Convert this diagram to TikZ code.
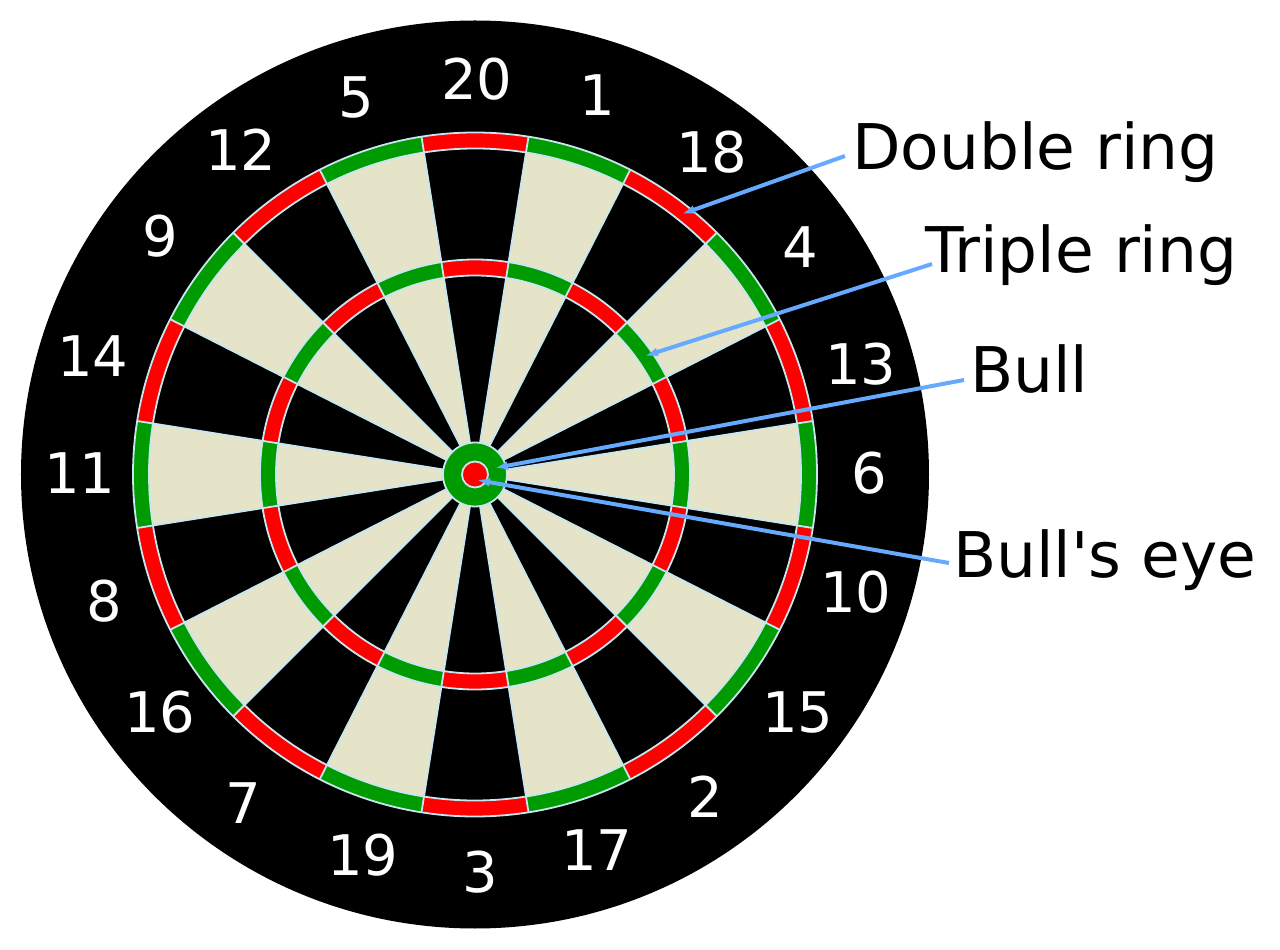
\documentclass[tikz,border=0pt]{standalone}
\usepackage{fontspec}
\setmainfont{DejaVu Sans}[Ligatures=TeXOff]
\usetikzlibrary{arrows.meta}
\definecolor{dartred}{RGB}{255,0,0}
\definecolor{dartgreen}{RGB}{0,155,0}
\definecolor{dartcream}{RGB}{230,228,200}
\definecolor{dartwire}{RGB}{200,230,240}
\definecolor{pointerblue}{RGB}{102,170,255}
\begin{document}
\begin{tikzpicture}[x=1pt,y=1pt,
  wireline/.style={draw=dartwire, line width=1.8pt},
  numlabel/.style={text=white, inner sep=0pt, font=\fontsize{56}{66}\selectfont},
  partlabel/.style={text=black, inner sep=0pt, anchor=base west, font=\fontsize{63}{75}\selectfont},
  pointer/.style={draw=pointerblue, line width=4pt, -{Latex[length=13pt,width=9pt]}}]
\useasboundingbox (-475,-475.5) rectangle (805,474.5);
% board
\fill[black] (0,0) circle[radius=454];
\foreach \k in {0,...,19}{
  \pgfmathsetmacro\aa{81-18*\k}
  \pgfmathsetmacro\ab{99-18*\k}
  \ifodd\k \def\rc{dartgreen}\def\sc{dartcream}\else\def\rc{dartred}\def\sc{black}\fi
  \fill[\rc] (0,0) -- (\aa:342) arc[start angle=\aa,end angle=\ab,radius=342] -- cycle;
  \fill[\sc] (0,0) -- (\aa:326) arc[start angle=\aa,end angle=\ab,radius=326] -- cycle;
  \fill[\rc] (0,0) -- (\aa:215) arc[start angle=\aa,end angle=\ab,radius=215] -- cycle;
  \fill[\sc] (0,0) -- (\aa:199) arc[start angle=\aa,end angle=\ab,radius=199] -- cycle;
}
\foreach \k in {0,...,19}{
  \pgfmathsetmacro\aa{81-18*\k}
  \draw[wireline] (\aa:32) -- (\aa:342);
}
\foreach \r in {342,326,215,199}{
  \draw[wireline] (0,0) circle[radius=\r];
}
\fill[dartgreen] (0,0) circle[radius=32];
\draw[wireline] (0,0) circle[radius=32];
\fill[dartred] (0,0) circle[radius=13];
\draw[wireline] (0,0) circle[radius=13];
% numbers
\foreach \n/\x/\y in {20/477/79, 1/597/95, 18/712/152, 4/800/247, 13/861/364,
  6/869/473, 10/856/592, 15/798/712, 2/705/797, 17/597/850, 3/480.5/872,
  19/363/855, 7/243/803, 16/160/712, 8/104/601, 11/80/473, 14/93/356,
  9/160/236, 12/241/150, 5/356/97}{
  \node[numlabel] (n\n) at (\x-475,474.5-\y) {\n};
}
% labels
\node[partlabel] (dbl) at (852-475,474.5-170) {Double ring};
\node[partlabel] (trp) at (925-475,474.5-273) {Triple ring};
\node[partlabel] (bul) at (970-475,474.5-393) {Bull};
\node[partlabel] (bey) at (953-475,474.5-578) {Bull's eye};
% pointer ends
\coordinate (dblTail) at (370,318.5);
\coordinate (dblTip) at (207,260.5);
\coordinate (trpTail) at (457,210.5);
\coordinate (trpTip) at (170,118.5);
\coordinate (bulTail) at (489,94.5);
\coordinate (bulTip) at (20,6.5);
\coordinate (beyTail) at (474,-88.5);
\coordinate (beyTip) at (2,-5.5);
\draw[pointer] (dblTail) -- (dblTip);
\draw[pointer] (trpTail) -- (trpTip);
\draw[pointer] (bulTail) -- (bulTip);
\draw[pointer] (beyTail) -- (beyTip);
\end{tikzpicture}
\end{document}
